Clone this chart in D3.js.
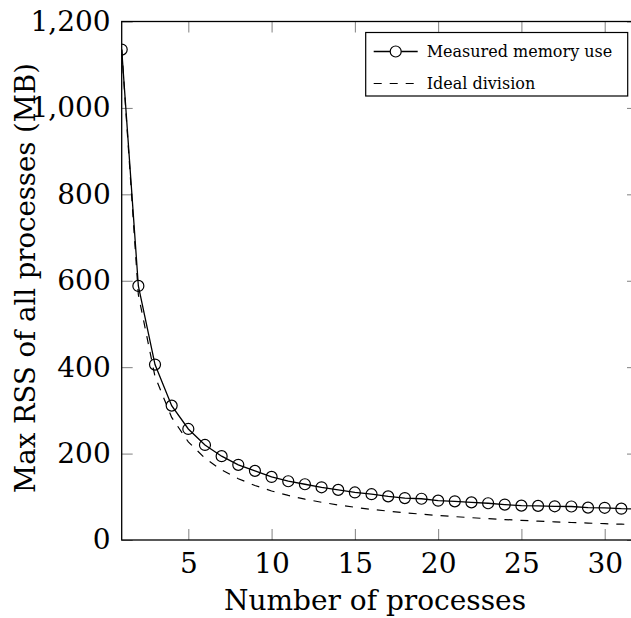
<!DOCTYPE html>
<html>
<head>
<meta charset="utf-8">
<script src="https://cdn.jsdelivr.net/npm/d3@7"></script>
<style>
  html, body { margin: 0; padding: 0; background: #fff; }
  svg { display: block; }
  text { font-family: "DejaVu Serif", serif; fill: #000; }
  .tick-mark { stroke: #808080; stroke-width: 1; }
  .frame { fill: none; stroke: #000; stroke-width: 1.3; }
</style>
</head>
<body>
<div id="chart"></div>
<script>
// Data
var processes = [1, 2, 3, 4, 5, 6, 7, 8, 9, 10, 11, 12, 13, 14, 15, 16,
  17, 18, 19, 20, 21, 22, 23, 24, 25, 26, 27, 28, 29, 30, 31, 32];
var measured = [1135, 588, 406, 311, 257, 220, 194, 174, 160, 146, 136, 129,
  122, 116, 110, 106, 101, 97, 95.5, 91, 89.5, 87, 85, 82, 79.5, 79, 78, 77.5,
  75, 74.5, 72.5, 71.5];
var ideal = [1135, 567.5, 378.3, 283.8, 227, 189.2, 162.1, 141.9, 126.1, 113.5,
  103.2, 94.6, 87.3, 81.1, 75.7, 70.9, 66.8, 63.1, 59.7, 56.8, 54.0, 51.6,
  49.3, 47.3, 45.4, 43.7, 42.0, 40.5, 39.1, 37.8, 36.6, 35.5];
var xTicks = [5, 10, 15, 20, 25, 30];
var yTicks = [0, 200, 400, 600, 800, 1000, 1200];
var seriesNames = ["Measured memory use", "Ideal division"];

var width = 631;
var height = 618;
var margins = { left: 121.7, top: 21.5, right: -7, bottom: 78 };
var tickLen = 11;

var chartWidth = width - margins.left - margins.right;
var chartHeight = height - margins.top - margins.bottom;

var svg = d3
  .select("#chart")
  .append("svg")
  .attr("width", width)
  .attr("height", height);

var chart = svg
  .append("g")
  .attr("transform", "translate(" + margins.left + "," + margins.top + ")");

// Scales
var xScale = d3.scaleLinear().domain([1, 32]).range([0, chartWidth]);
var yScale = d3.scaleLinear().domain([0, 1200]).range([chartHeight, 0]);

// Clip to plot area
svg
  .append("defs")
  .append("clipPath")
  .attr("id", "plot-clip")
  .append("rect")
  .attr("x", 0)
  .attr("y", 0)
  .attr("width", chartWidth)
  .attr("height", chartHeight);

// Axes: tick marks point inward on all four sides
var xAxisBottom = d3.axisBottom(xScale).tickValues(xTicks).tickSize(-tickLen).tickPadding(13);
var xAxisTop = d3.axisTop(xScale).tickValues(xTicks).tickSize(-tickLen).tickFormat("");
var yAxisLeft = d3
  .axisLeft(yScale)
  .tickValues(yTicks)
  .tickSize(-tickLen)
  .tickPadding(11)
  .tickFormat(d3.format(","));
var yAxisRight = d3.axisRight(yScale).tickValues(yTicks).tickSize(-tickLen).tickFormat("");

var styleAxis = function(g) {
  g.select(".domain").remove();
  g.selectAll(".tick line").attr("class", "tick-mark");
  g.selectAll(".tick text")
    .style("font-size", "28px")
    .attr("fill", "#000");
};

chart
  .append("g")
  .attr("transform", "translate(0," + chartHeight + ")")
  .call(xAxisBottom)
  .call(styleAxis);

chart.append("g").call(xAxisTop).call(styleAxis);
chart.append("g").call(yAxisLeft).call(styleAxis);
chart
  .append("g")
  .attr("transform", "translate(" + chartWidth + ",0)")
  .call(yAxisRight)
  .call(styleAxis);

// Axis titles
chart
  .append("text")
  .attr("x", 375 - margins.left)
  .attr("y", chartHeight + 70)
  .attr("text-anchor", "middle")
  .style("font-size", "28px")
  .text("Number of processes");

chart
  .append("text")
  .attr("transform", "translate(" + (-margins.left + 35) + "," + (278 - margins.top) + ") rotate(-90)")
  .attr("text-anchor", "middle")
  .style("font-size", "27.5px")
  .text("Max RSS of all processes (MB)");

// Lines
var plot = chart.append("g").attr("clip-path", "url(#plot-clip)");

var line = d3
  .line()
  .x((d, i) => xScale(processes[i]))
  .y(d => yScale(d));

plot
  .append("path")
  .datum(ideal)
  .attr("fill", "none")
  .attr("stroke", "#000")
  .attr("stroke-width", 1.2)
  .attr("stroke-dasharray", "8,8")
  .attr("d", line);

plot
  .append("path")
  .datum(measured)
  .attr("fill", "none")
  .attr("stroke", "#000")
  .attr("stroke-width", 1.3)
  .attr("d", line);

plot
  .selectAll("circle.mark")
  .data(measured)
  .enter()
  .append("circle")
  .attr("class", "mark")
  .attr("cx", (d, i) => xScale(processes[i]))
  .attr("cy", d => yScale(d))
  .attr("r", 5.5)
  .attr("fill", "none")
  .attr("stroke", "#000")
  .attr("stroke-width", 1.2);

// Frame
chart
  .append("rect")
  .attr("class", "frame")
  .attr("x", 0)
  .attr("y", 0)
  .attr("width", chartWidth)
  .attr("height", chartHeight);

// Legend
var legendX = 365.7 - margins.left;
var legendY = 32.5 - margins.top;
var legendW = 262;
var legendH = 63.5;
var legend = chart
  .append("g")
  .attr("transform", "translate(" + legendX + "," + legendY + ")");

legend
  .append("rect")
  .attr("width", legendW)
  .attr("height", legendH)
  .attr("fill", "#fff")
  .attr("stroke", "#000")
  .attr("stroke-width", 1.2);

var rowY = [19, 51];

legend
  .append("line")
  .attr("x1", 8)
  .attr("x2", 52)
  .attr("y1", rowY[0])
  .attr("y2", rowY[0])
  .attr("stroke", "#000")
  .attr("stroke-width", 1.3);

legend
  .append("circle")
  .attr("cx", 30)
  .attr("cy", rowY[0])
  .attr("r", 5.5)
  .attr("fill", "#fff")
  .attr("stroke", "#000")
  .attr("stroke-width", 1.2);

legend
  .append("line")
  .attr("x1", 8)
  .attr("x2", 52)
  .attr("y1", rowY[1])
  .attr("y2", rowY[1])
  .attr("stroke", "#000")
  .attr("stroke-width", 1.2)
  .attr("stroke-dasharray", "8,8");

legend
  .selectAll("text.legend-label")
  .data(seriesNames)
  .enter()
  .append("text")
  .attr("class", "legend-label")
  .attr("x", 61)
  .attr("y", (d, i) => rowY[i])
  .attr("dy", "0.32em")
  .style("font-size", "16px")
  .text(d => d);
</script>
</body>
</html>
